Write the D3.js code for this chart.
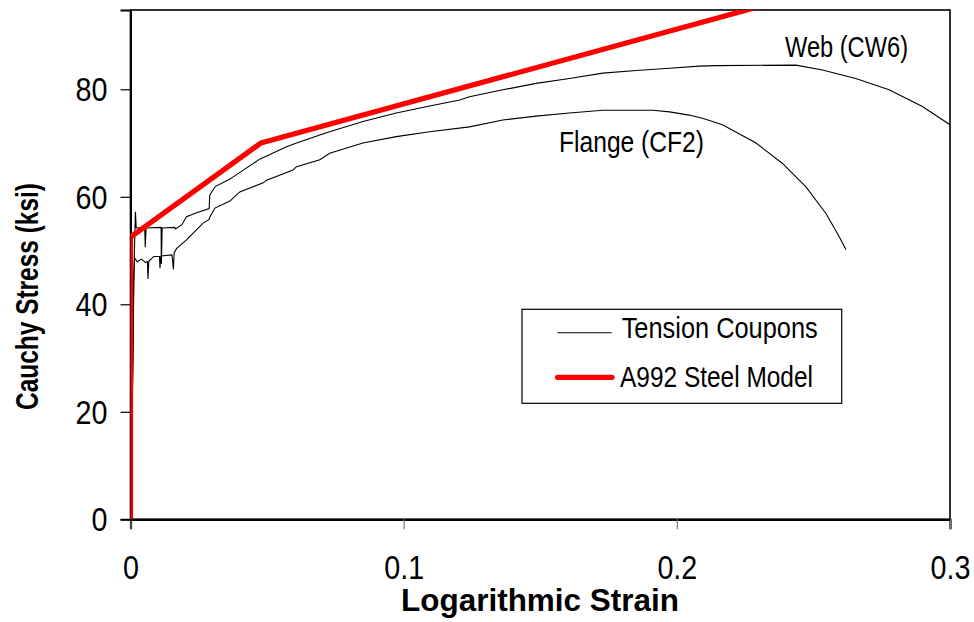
<!DOCTYPE html>
<html><head><meta charset="utf-8">
<script src="https://cdn.jsdelivr.net/npm/d3@7/dist/d3.min.js"></script>
<style>
html,body{margin:0;padding:0;background:#fff;}
svg{display:block;}
text{font-family:"Liberation Sans",Arial,Helvetica,sans-serif;fill:#000;}
</style></head>
<body>
<svg id="chart" width="974" height="622"></svg>
<script>
// ---- data ----
const xTicks = [0, 0.1, 0.2, 0.3];
const xTickLabels = ["0", "0.1", "0.2", "0.3"];
const yTicks = [0, 20, 40, 60, 80];
const yTickLabels = ["0", "20", "40", "60", "80"];
const yMax = 94.75;

const webStrain = [0,0.0009,0.0012,0.0018,0.0021,0.0052,0.0054,0.0057,0.0112,0.0113,0.0116,0.0162,0.0165,0.0188,0.0205,0.024,0.0288,0.029,0.031,0.0364,0.0376,0.0473,0.0571,0.0608,0.0693,0.0729,0.0851,0.0973,0.1095,0.1205,0.1241,0.1363,0.1485,0.1607,0.1729,0.1851,0.1973,0.2082,0.2146,0.2436,0.2533,0.2655,0.2777,0.2899,0.3];
const webStress = [0,30,45,57.2,54.2,54.3,50.6,54.2,54.3,47.5,54.2,54.3,54.0,54.8,56.3,57.0,57.8,60.3,61.9,63.3,63.7,67.0,69.3,70.0,71.5,72.1,74.0,75.6,76.9,78.0,78.6,79.9,81.1,82.0,83.0,83.5,83.9,84.3,84.4,84.5,83.6,82.0,79.9,76.8,73.4];

const flangeStrain = [0,0.0009,0.0012,0.0015,0.0025,0.004,0.0055,0.0062,0.0064,0.0067,0.0085,0.0106,0.0108,0.0111,0.0152,0.0157,0.016,0.0169,0.0205,0.0266,0.0288,0.0291,0.0309,0.0364,0.04,0.0486,0.0498,0.0595,0.0608,0.0693,0.0729,0.0851,0.0973,0.1095,0.1241,0.1363,0.1485,0.1607,0.1729,0.1912,0.1973,0.2045,0.2094,0.2167,0.229,0.2387,0.2472,0.2546,0.2594,0.2619];
const flangeStress = [0,30,44,48.6,47.9,48.4,47.8,47.9,44.7,48.0,48.9,48.9,46.7,49.0,49.2,46.5,49.6,50.4,52.0,55.1,55.8,56.3,57.9,59.2,60.9,62.6,63.1,65.0,65.6,66.9,68.1,70.0,71.2,72.1,73.0,74.3,75.0,75.6,76.1,76.1,75.8,75.2,74.6,73.4,70.0,66.2,61.9,56.9,52.6,50.2];

const modelStrain = [0, 0, 0.0477, 0.3];
const modelStress = [0, 52.5, 70, 105.1];

const seriesLabels = ["Web (CW6)", "Flange (CF2)"];
const legendLabels = ["Tension Coupons", "A992 Steel Model"];
const xTitle = "Logarithmic Strain";
const yTitle = "Cauchy Stress (ksi)";

// ---- layout ----
const svg = d3.select("#chart");
const L = 130.5, R = 950, T = 10, B = 519.3;
const x = d3.scaleLinear().domain([0, 0.3]).range([L, R]);
const y = d3.scaleLinear().domain([0, yMax]).range([B, T]);

function condense(sel, k) {
  sel.each(function(){
    const w = this.getComputedTextLength();
    d3.select(this).attr("textLength", w * k).attr("lengthAdjust", "spacingAndGlyphs");
  });
}

svg.append("clipPath").attr("id","clip").append("rect")
  .attr("x", L).attr("y", T).attr("width", R - L).attr("height", B - T);

// frame
svg.append("rect").attr("x", L).attr("y", T).attr("width", R - L).attr("height", B - T)
  .attr("fill", "none").attr("stroke", "#000").attr("stroke-width", 1.6);

// axes
const xAxis = svg.append("g").attr("transform", `translate(0,${B})`)
  .call(d3.axisBottom(x).tickValues(xTicks).tickFormat((d,i)=>xTickLabels[i]).tickSizeOuter(0).tickSize(10));
xAxis.select(".domain").attr("stroke", "#000").attr("stroke-width", 2.2);
xAxis.selectAll(".tick line").attr("stroke", "#777").attr("stroke-width", 1.2);
xAxis.selectAll(".tick text").attr("font-size", 33).attr("y", 60).attr("dy", 0)
  .style("font-family", '"Liberation Sans",Arial,sans-serif').attr("fill", "#000");
condense(xAxis.selectAll(".tick text"), 0.87);

const yAxis = svg.append("g").attr("transform", `translate(${L},0)`)
  .call(d3.axisLeft(y).tickValues(yTicks).tickFormat((d,i)=>yTickLabels[i]).tickSizeOuter(0).tickSize(10));
yAxis.select(".domain").attr("stroke", "#000").attr("stroke-width", 2);
yAxis.selectAll(".tick line").attr("stroke", "#000").attr("stroke-width", 1.2);
yAxis.selectAll(".tick text").attr("font-size", 33).attr("x", -23).attr("dy", "0.35em")
  .style("font-family", '"Liberation Sans",Arial,sans-serif').attr("fill", "#000");
condense(yAxis.selectAll(".tick text"), 0.87);

// coupon curves
const line = d3.line().x(d => x(d[0])).y(d => y(d[1]));
const web = webStrain.map((s,i)=>[s, webStress[i]]);
const flange = flangeStrain.map((s,i)=>[s, flangeStress[i]]);
const model = modelStrain.map((s,i)=>[s, modelStress[i]]);

const plot = svg.append("g").attr("clip-path", "url(#clip)");
[web, flange].forEach(d => {
  plot.append("path").datum(d).attr("d", line)
    .attr("fill", "none").attr("stroke", "#000").attr("stroke-width", 1.1);
});
plot.append("path").datum(model).attr("d", line)
  .attr("fill", "none").attr("stroke", "#ff0000").attr("stroke-width", 5.2)
  .attr("stroke-linejoin", "round");

// series labels
svg.append("text").attr("x", 785).attr("y", 56.7).attr("font-size", 29).text(seriesLabels[0])
  .attr("textLength", 123).attr("lengthAdjust", "spacingAndGlyphs");
svg.append("text").attr("x", 559).attr("y", 152).attr("font-size", 29).text(seriesLabels[1])
  .attr("textLength", 145).attr("lengthAdjust", "spacingAndGlyphs");

// legend
svg.append("rect").attr("x", 522).attr("y", 309.3).attr("width", 319.7).attr("height", 94)
  .attr("fill", "#fff").attr("stroke", "#000").attr("stroke-width", 1.2);
svg.append("line").attr("x1", 557.3).attr("x2", 611.7).attr("y1", 332.7).attr("y2", 332.7)
  .attr("stroke", "#000").attr("stroke-width", 1.1);
svg.append("line").attr("x1", 557.5).attr("x2", 612).attr("y1", 377.3).attr("y2", 377.3)
  .attr("stroke", "#ff0000").attr("stroke-width", 5.2).attr("stroke-linecap", "round");
svg.append("text").attr("x", 621.7).attr("y", 338.3).attr("font-size", 29).text(legendLabels[0])
  .attr("textLength", 196).attr("lengthAdjust", "spacingAndGlyphs");
svg.append("text").attr("x", 620).attr("y", 386.7).attr("font-size", 29).text(legendLabels[1])
  .attr("textLength", 193).attr("lengthAdjust", "spacingAndGlyphs");

// axis titles
svg.append("text").attr("x", 401).attr("y", 611).attr("font-size", 32).attr("font-weight", "bold")
  .text(xTitle).attr("textLength", 278).attr("lengthAdjust", "spacingAndGlyphs");
svg.append("text").attr("transform", "translate(38,410) rotate(-90)")
  .attr("x", 0).attr("y", 0).attr("font-size", 31).attr("font-weight", "bold")
  .text(yTitle).attr("textLength", 227).attr("lengthAdjust", "spacingAndGlyphs");
</script>
</body></html>
